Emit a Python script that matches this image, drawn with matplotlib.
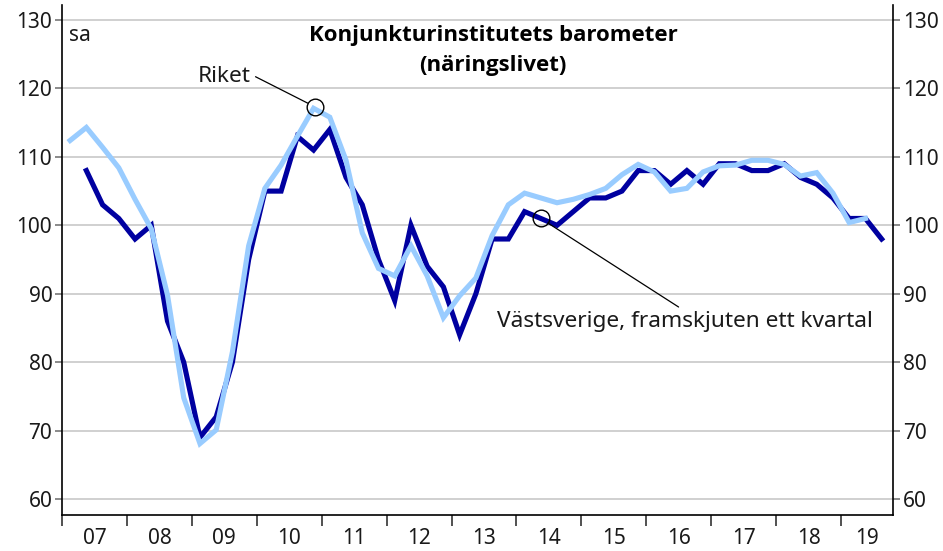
import numpy as np
import matplotlib
matplotlib.use('Agg')
import matplotlib.pyplot as plt

plt.rcParams['font.family'] = ['Noto Sans', 'DejaVu Sans']

# quarterly values, Riket from 2007Q1, Västsverige (shifted one quarter) from 2007Q2
riket = [112.4, 114.3, 111.4, 108.4,
         103.8, 99.5, 89.8, 74.8,
         68.1, 70.1, 81.5, 97.0,
         105.4, 108.8, 113.0, 117.1,
         115.8, 109.5, 98.9, 93.7,
         92.6, 97.0, 92.6, 86.5,
         89.7, 92.3, 98.5, 103.0,
         104.7, 104.0, 103.3, 103.8,
         104.5, 105.4, 107.4, 108.9,
         107.8, 105.0, 105.4, 107.8,
         108.7, 108.8, 109.5, 109.5,
         108.9, 107.2, 107.7, 104.7,
         100.4, 101.0]
vastsverige = [108, 103, 101,
               98, 100, 86, 80,
               69, 72, 80, 95,
               105, 105, 113, 111,
               114, 107, 103, 95,
               89, 100, 94, 91,
               84, 90, 98, 98,
               102, 101, 100, 102,
               104, 104, 105, 108,
               108, 106, 108, 106,
               109, 109, 108, 108,
               109, 107, 106, 104,
               101, 101, 98]
years = ['07', '08', '09', '10', '11', '12', '13', '14', '15', '16', '17', '18', '19']
yticks = [60, 70, 80, 90, 100, 110, 120, 130]

dark = '#0000a0'
light = '#99ccff'
textcol = '#1a1a1a'

# x in quarters since 2007Q1, points at quarter centers
xRiket = np.arange(len(riket)) + 0.5
xVast = np.arange(len(vastsverige)) + 1.5
xmax = 51.2

fig = plt.figure(figsize=(9.43, 5.51), dpi=100)
ax = fig.add_axes([62 / 943, 36 / 551, 831 / 943, 510 / 551])

ax.set_xlim(0, xmax)
ax.set_ylim(57.66, 132.2)

for v in yticks:
    ax.axhline(v, color='#c8c8c8', lw=1.2, zorder=1)

ax.plot(xVast, vastsverige, color=dark, lw=3.7, solid_joinstyle='miter', zorder=3)
ax.plot(xRiket, riket, color=light, lw=3.7, solid_joinstyle='miter', zorder=4)

# spines
ax.spines['top'].set_visible(False)
for s in ['left', 'right', 'bottom']:
    ax.spines[s].set_color('black')
    ax.spines[s].set_linewidth(1.2)

# y ticks both sides
ax.set_yticks(yticks)
ax.tick_params(axis='y', which='both', left=True, right=True, labelleft=True, labelright=True,
               direction='out', length=5, width=1.2, color='#777777', labelsize=15,
               labelcolor=textcol, pad=2)

# x: tick marks at year boundaries, labels at year centers
yearStarts = np.arange(0, 4 * len(years), 4)
labelPos = [p + 2 for p in yearStarts[:-1]] + [(yearStarts[-1] + xmax) / 2]
ax.set_xticks(yearStarts)
ax.set_xticklabels([])
ax.set_xticks(labelPos, minor=True)
ax.set_xticklabels(years, minor=True)
ax.tick_params(axis='x', which='major', direction='out', length=8, width=1.2, color='#333333')
ax.tick_params(axis='x', which='minor', length=0, labelsize=15, labelcolor=textcol, pad=9)

ax.text(0.008, 0.94, 'sa', transform=ax.transAxes, fontsize=15, color=textcol,
        ha='left', va='center')

titleFont = ['Open Sans', 'Roboto', 'DejaVu Sans']
fig.text(493 / 943, 1 - 35 / 551, 'Konjunkturinstitutets barometer', fontsize=16,
         family=titleFont, fontweight='bold', color='black', ha='center', va='center')
fig.text(493 / 943, 1 - 65 / 551, '(näringslivet)', fontsize=16,
         family=titleFont, fontweight='bold', color='black', ha='center', va='center')

# annotation circles
ax.plot([15.6], [117.3], marker='o', ms=12, mfc='none', mec='black', mew=1.0, zorder=5)
ax.plot([29.5], [101.0], marker='o', ms=12, mfc='none', mec='black', mew=1.0, zorder=5)

ax.annotate('Riket', xy=(15.6, 117.3), xytext=(11.6, 121.8), fontsize=16.3, color=textcol,
            ha='right', va='center',
            arrowprops=dict(arrowstyle='-', color='black', lw=0.9, shrinkA=2, shrinkB=6,
                            relpos=(1.0, 0.6)))
ax.annotate('Västsverige, framskjuten ett kvartal', xy=(29.5, 101.0), xytext=(38.4, 85.9),
            fontsize=16.3, color=textcol, ha='center', va='center',
            arrowprops=dict(arrowstyle='-', color='black', lw=0.9, shrinkA=2, shrinkB=6,
                            relpos=(0.5, 1.0)))

plt.savefig('out.png', dpi=100)
